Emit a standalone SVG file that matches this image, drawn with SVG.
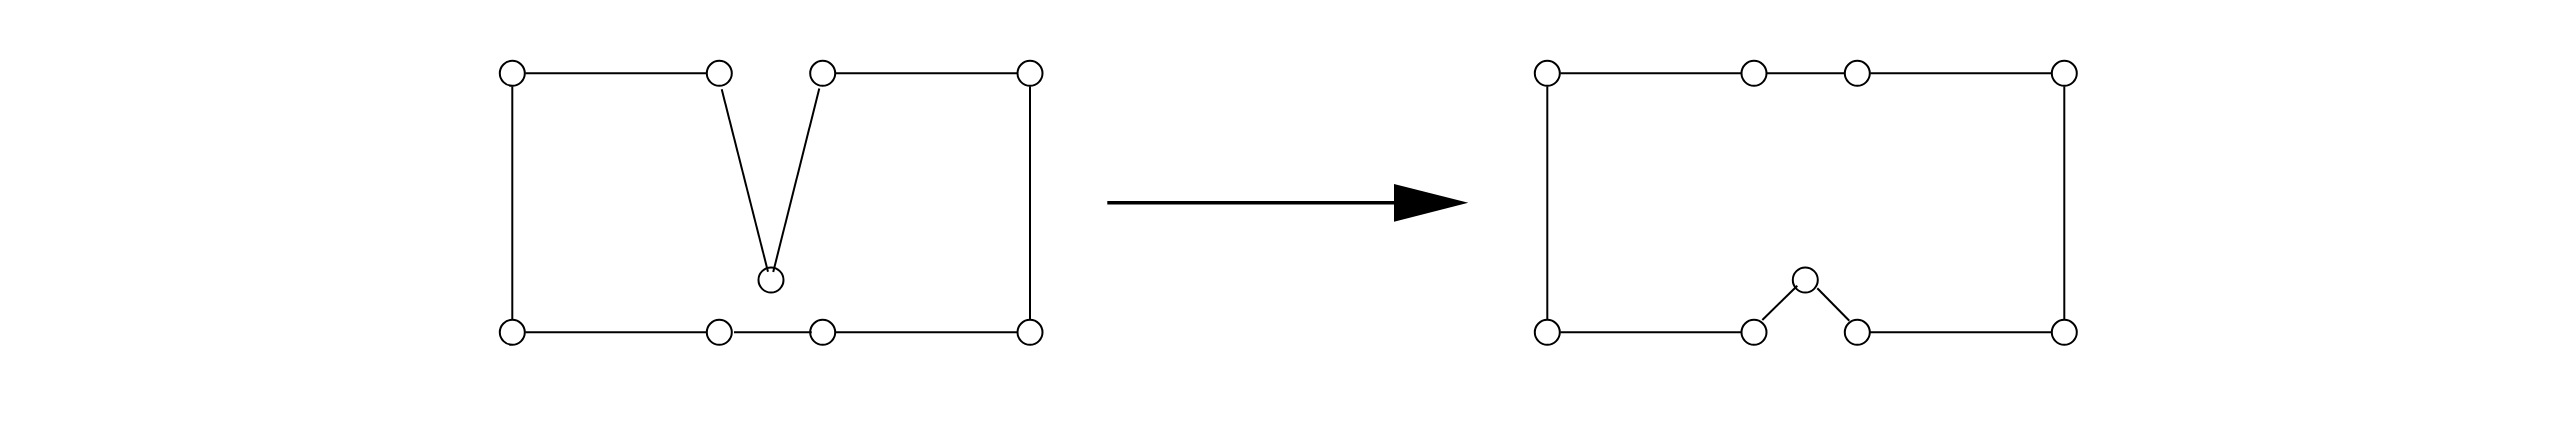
<svg xmlns="http://www.w3.org/2000/svg" width="2574" height="422" viewBox="0 0 2574 422">
<defs>
<style>
.edge{stroke:#000;stroke-width:2;fill:none}
.node{fill:#fff;stroke:#000;stroke-width:2}
</style>
</defs>
<rect width="2574" height="422" fill="#fff"/>
<g id="n1"><circle class="node" cx="512.3" cy="73.3" r="12.5"/></g>
<g id="n2"><circle class="node" cx="719.3" cy="73.3" r="12.5"/></g>
<g id="n3"><circle class="node" cx="822.7" cy="73.3" r="12.5"/></g>
<g id="n4"><circle class="node" cx="1030" cy="73.3" r="12.5"/></g>
<g id="n5"><circle class="node" cx="512.3" cy="332.3" r="12.5"/></g>
<g id="n6"><circle class="node" cx="719.3" cy="332.3" r="12.5"/></g>
<g id="n7"><circle class="node" cx="822.7" cy="332.3" r="12.5"/></g>
<g id="n8"><circle class="node" cx="1030" cy="332.3" r="12.5"/></g>
<g id="n9"><circle class="node" cx="771" cy="280" r="12.5"/></g>
<g id="m1"><circle class="node" cx="1547.3" cy="73.3" r="12.5"/></g>
<g id="m2"><circle class="node" cx="1754" cy="73.3" r="12.5"/></g>
<g id="m3"><circle class="node" cx="1857.3" cy="73.3" r="12.5"/></g>
<g id="m4"><circle class="node" cx="2064.3" cy="73.3" r="12.5"/></g>
<g id="m5"><circle class="node" cx="1547.3" cy="332.3" r="12.5"/></g>
<g id="m6"><circle class="node" cx="1754" cy="332.3" r="12.5"/></g>
<g id="m7"><circle class="node" cx="1857.3" cy="332.3" r="12.5"/></g>
<g id="m8"><circle class="node" cx="2064.3" cy="332.3" r="12.5"/></g>
<g id="m9"><circle class="node" cx="1805.3" cy="280" r="12.5"/></g>
<g id="connectors">
<line class="edge" x1="525.3" y1="73.3" x2="706.3" y2="73.3"/>
<line class="edge" x1="835.7" y1="73.3" x2="1017" y2="73.3"/>
<line class="edge" x1="512.3" y1="86.3" x2="512.3" y2="319.3"/>
<line class="edge" x1="1030" y1="86.3" x2="1030" y2="319.3"/>
<line class="edge" x1="525.3" y1="332.3" x2="706.3" y2="332.3"/>
<line class="edge" x1="734" y1="332.3" x2="811.7" y2="332.3"/>
<line class="edge" x1="835.7" y1="332.3" x2="1017" y2="332.3"/>
<line class="edge" x1="721.7" y1="89.3" x2="768" y2="271.7"/>
<line class="edge" x1="819.3" y1="88.5" x2="773.2" y2="272"/>
<line class="edge" x1="1560.3" y1="73.3" x2="1741" y2="73.3"/>
<line class="edge" x1="1767" y1="73.3" x2="1844.3" y2="73.3"/>
<line class="edge" x1="1870.3" y1="73.3" x2="2051.3" y2="73.3"/>
<line class="edge" x1="1547.3" y1="86.3" x2="1547.3" y2="319.3"/>
<line class="edge" x1="2064.3" y1="86.3" x2="2064.3" y2="319.3"/>
<line class="edge" x1="1560.3" y1="332.3" x2="1741" y2="332.3"/>
<line class="edge" x1="1869" y1="332.3" x2="2051.3" y2="332.3"/>
<line class="edge" x1="1762.3" y1="320" x2="1797.3" y2="285.7"/>
<line class="edge" x1="1817.3" y1="288.3" x2="1849.3" y2="320.7"/>
<line x1="1107.3" y1="202.7" x2="1396" y2="202.7" stroke="#000" stroke-width="3.4"/>
<polygon points="1394,184 1468.3,202.7 1394,221.7" fill="#000"/>
</g>
</svg>
